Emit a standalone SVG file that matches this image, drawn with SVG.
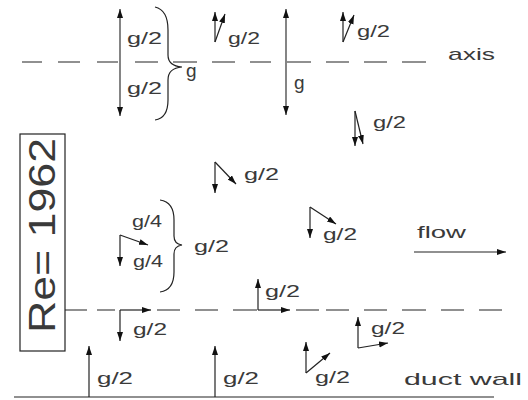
<svg xmlns="http://www.w3.org/2000/svg" width="528" height="400" viewBox="0 0 528 400">
<defs>
<marker id="ah" markerUnits="userSpaceOnUse" markerWidth="10" markerHeight="7" refX="9" refY="3" orient="auto-start-reverse">
<path d="M0,0 L9,3 L0,6 z" fill="#111"/>
</marker>
<style>
.ln{stroke:#222;stroke-width:1.2;fill:none}
.ar{stroke:#222;stroke-width:1.2;fill:none;marker-end:url(#ah)}
.da{stroke:#333;stroke-width:1.2;fill:none;marker-start:url(#ah);marker-end:url(#ah)}
.t{font-family:"Liberation Sans",Arial,sans-serif;font-size:17px;fill:#3a3a3a}
</style>
</defs>
<rect width="528" height="400" fill="#fff"/>
<g id="connectors">
<path class="ln" d="M22,62H42M58,62H80M97,62H118M135,62H158M173,62H197M212,62H235M250,62H271M287,62H311M326,62H349M364,62H387M402,62H426"/>
<path class="ln" d="M65,310H87M97,310H115M157,310H180M195,310H218M233,310H257M296,310H319M326,310H349M364,310H387M402,310H426M441,310H464M479,310H502"/>
<line class="ln" x1="14" y1="397" x2="494" y2="397"/>
<line class="da" x1="120" y1="9" x2="120" y2="116"/>
<line class="da" x1="286" y1="9" x2="286" y2="115"/>
<path class="ln" d="M155,7 Q168,10 168,30 L168,55 Q168,66 182,67 Q168,68 168,80 L168,100 Q168,118 155,120"/>
<path class="ln" d="M160,200 Q174,202 174,220 L174,236 Q174,244 182,245 Q174,246 174,254 L174,272 Q174,290 160,292"/>
<line class="ar" x1="215" y1="42" x2="215" y2="12"/>
<line class="ar" x1="215" y1="42" x2="225" y2="14"/>
<line class="ar" x1="343" y1="42" x2="343" y2="12"/>
<line class="ar" x1="343" y1="42" x2="354" y2="15"/>
<line class="ar" x1="355" y1="111" x2="355" y2="146"/>
<line class="ar" x1="355" y1="111" x2="363" y2="144"/>
<line class="ar" x1="215" y1="162" x2="215" y2="193"/>
<line class="ar" x1="215" y1="162" x2="236" y2="184"/>
<line class="ar" x1="120" y1="235" x2="120" y2="266"/>
<line class="ar" x1="120" y1="235" x2="148" y2="245"/>
<line class="ar" x1="310" y1="207" x2="310" y2="238"/>
<line class="ar" x1="310" y1="207" x2="336" y2="224"/>
<line class="ar" x1="414" y1="252" x2="506" y2="252"/>
<line class="ar" x1="120" y1="310" x2="120" y2="341"/>
<line class="ar" x1="120" y1="310" x2="151" y2="310"/>
<line class="ar" x1="258" y1="310" x2="258" y2="279"/>
<line class="ar" x1="258" y1="310" x2="290" y2="310"/>
<line class="ar" x1="358" y1="348" x2="358" y2="317"/>
<line class="ar" x1="358" y1="348" x2="388" y2="343"/>
<line class="ar" x1="306" y1="373" x2="306" y2="342"/>
<line class="ar" x1="306" y1="373" x2="330" y2="353"/>
<line class="ar" x1="89" y1="397" x2="89" y2="346"/>
<line class="ar" x1="215" y1="397" x2="215" y2="346"/>
</g>
<g id="re-box">
<rect x="20" y="134" width="45" height="217" fill="none" stroke="#222" stroke-width="1.2"/>
<text class="t" transform="translate(55,333) rotate(-90)" style="font-size:37px" textLength="195" lengthAdjust="spacingAndGlyphs">Re= 1962</text>
</g>
<g id="labels">
<text class="t" x="127" y="44" textLength="35" lengthAdjust="spacingAndGlyphs">g/2</text>
<text class="t" x="127" y="94" textLength="35" lengthAdjust="spacingAndGlyphs">g/2</text>
<text class="t" x="186" y="77" style="font-size:19px">g</text>
<text class="t" x="294" y="89" style="font-size:19px">g</text>
<text class="t" x="228" y="44" textLength="32" lengthAdjust="spacingAndGlyphs">g/2</text>
<text class="t" x="357" y="37" textLength="33" lengthAdjust="spacingAndGlyphs">g/2</text>
<text class="t" x="373" y="128" textLength="33" lengthAdjust="spacingAndGlyphs">g/2</text>
<text class="t" x="448" y="60" textLength="47" lengthAdjust="spacingAndGlyphs">axis</text>
<text class="t" x="244" y="180" textLength="35" lengthAdjust="spacingAndGlyphs">g/2</text>
<text class="t" x="132" y="227" textLength="30" lengthAdjust="spacingAndGlyphs">g/4</text>
<text class="t" x="133" y="267" textLength="30" lengthAdjust="spacingAndGlyphs">g/4</text>
<text class="t" x="194" y="252" textLength="35" lengthAdjust="spacingAndGlyphs">g/2</text>
<text class="t" x="323" y="240" textLength="34" lengthAdjust="spacingAndGlyphs">g/2</text>
<text class="t" x="417" y="238" textLength="49" lengthAdjust="spacingAndGlyphs">flow</text>
<text class="t" x="133" y="335" textLength="34" lengthAdjust="spacingAndGlyphs">g/2</text>
<text class="t" x="265" y="297" textLength="35" lengthAdjust="spacingAndGlyphs">g/2</text>
<text class="t" x="371" y="334" textLength="34" lengthAdjust="spacingAndGlyphs">g/2</text>
<text class="t" x="315" y="383" textLength="35" lengthAdjust="spacingAndGlyphs">g/2</text>
<text class="t" x="97" y="384" textLength="36" lengthAdjust="spacingAndGlyphs">g/2</text>
<text class="t" x="223" y="384" textLength="36" lengthAdjust="spacingAndGlyphs">g/2</text>
<text class="t" x="404" y="385" textLength="118" lengthAdjust="spacingAndGlyphs">duct wall</text>
</g>
</svg>
